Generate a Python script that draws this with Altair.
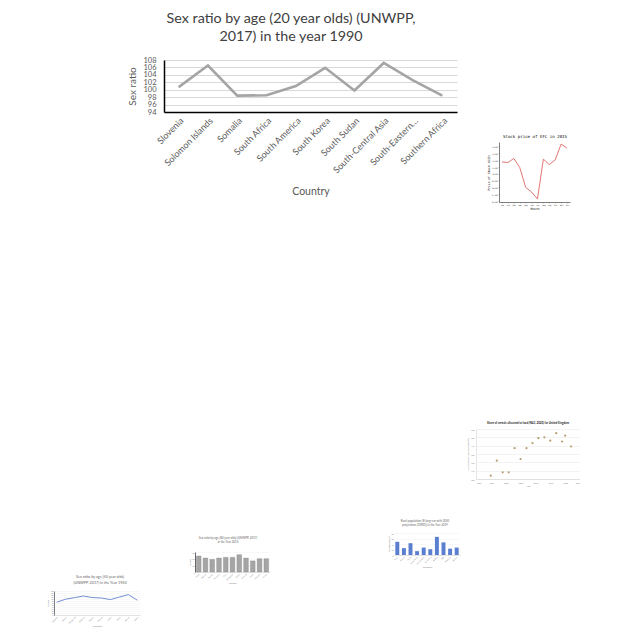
import altair as alt
import pandas as pd

FONT = "Lato"
MONO = "DejaVu Sans Mono"
GREY_TXT = "#595959"
THUMB_TXT = "#808080"

# ---------------- main chart data ----------------
main_countries = ["Slovenia", "Solomon Islands", "Somalia", "South Africa", "South America",
                  "South Korea", "South Sudan", "South-Central Asia", "South-Eastern…", "Southern Africa"]
main_values = [100.7, 106.5, 98.4, 98.5, 101.0, 105.9, 99.8, 107.2, 102.5, 98.4]
main_ticks = [94, 96, 98, 100, 102, 104, 106, 108]

# ---------------- thumbnail data ----------------
stock_months = ["Jan", "Feb", "Mar", "Apr", "May", "Jun", "Jul", "Aug", "Sep", "Oct", "Nov", "Dec"]
stock_values = [71.7, 71.6, 72.2, 70.9, 68.0, 67.3, 66.3, 72.1, 71.3, 72.0, 74.3, 73.7]
stock_ticks = [66, 67, 68, 69, 70, 71, 72, 73, 74]

cereal_years = [1995, 1997, 1999, 2001, 2003, 2005, 2007, 2009, 2011, 2013, 2015, 2017, 2019, 2020, 2022]
cereal_values = [40.4, 42.2, 40.8, 40.8, 43.7, 42.4, 43.7, 44.3, 44.9, 45.0, 44.6, 45.5, 44.5, 45.2, 43.9]
cereal_xticks = [1990, 1995, 2000, 2005, 2010, 2015, 2020, 2025]
cereal_yticks = [40, 41, 42, 43, 44, 45, 46]

rural_countries = ["Niger", "Nigeria", "Nepal", "Netherlands", "New Zealand", "Nicaragua",
                   "Malawi", "Mali", "Malaysia", "Mexico"]
rural_values = [48, 25, 43, 14, 27, 21, 66, 46, 23, 27]

sr80_countries = ["Oman", "Pakistan", "Panama", "Paraguay", "Peru", "Philippines",
                  "Poland", "Portugal", "Qatar", "Romania", "Russia"]
sr80_values = [72, 63, 57, 63, 66, 66, 78, 63, 50, 60, 60]

sr50_countries = ["Bahamas", "Bahrain", "Bangladesh", "Barbados", "Belarus", "Belgium",
                  "Belize", "Benin", "Bhutan", "Bolivia"]
sr50_values = [64, 79, 87, 95, 87, 85, 77, 90, 102, 74]


def spacer(h):
    return alt.Chart(pd.DataFrame({"a": [0]})).mark_point(opacity=0, size=1).encode(
        x=alt.value(5), y=alt.value(5)
    ).properties(width=1, height=h)


def thumb_axis(title, **kw):
    base = dict(title=title, labelFont=FONT, titleFont=FONT, labelColor=THUMB_TXT,
                titleColor=THUMB_TXT, titleFontWeight="normal", ticks=False,
                labelPadding=1, titlePadding=1.5)
    base.update(kw)
    return alt.Axis(**base)


# ---------------- main chart (plot 164..457 x 60..112) ----------------
main_df = pd.DataFrame({"Country": main_countries, "Sex ratio": main_values})
main = alt.Chart(
    main_df,
    title=alt.Title(["Sex ratio by age (20 year olds) (UNWPP,", "2017) in the year 1990"],
                    fontSize=14.3, font=FONT, fontWeight="normal", color="#404040",
                    anchor="middle", lineHeight=17.5, offset=12, dx=62.5),
).mark_line(color="#a5a5a5", strokeWidth=2.6).encode(
    x=alt.X("Country:N", sort=main_countries,
            scale=alt.Scale(type="point", padding=0.5, range=[164, 457]),
            axis=alt.Axis(title="Country", labelAngle=-45, labelFont=FONT, labelFontSize=9,
                          labelColor=GREY_TXT, titleFont=FONT, titleFontSize=10.5,
                          titleFontWeight="normal", titleColor=GREY_TXT, ticks=False,
                          domainColor="#000000", domainWidth=1.5, labelPadding=4,
                          titlePadding=12, grid=False)),
    y=alt.Y("Sex ratio:Q", scale=alt.Scale(domain=[94, 108], nice=False, zero=False),
            axis=alt.Axis(title="Sex ratio", values=main_ticks, labelOverlap=False,
                          labelFont=FONT, labelFontSize=7.5, labelColor=GREY_TXT,
                          titleFont=FONT, titleFontSize=10, titleFontWeight="normal",
                          titleColor=GREY_TXT, ticks=False, domainColor="#000000",
                          domainWidth=1.5, labelPadding=8, titlePadding=5,
                          gridColor="#d9d9d9", gridWidth=1, offset=-164)),
).properties(width=457, height=52)

# ---------------- stock thumbnail (plot 499..570 x 142..202) ----------------
stock_df = pd.DataFrame({"Month": stock_months, "Price": stock_values})
stock = alt.Chart(
    stock_df,
    title=alt.Title("Stock price of EFC in 2015", fontSize=4.1, font=MONO,
                    fontWeight="normal", color="#000000", offset=3, dx=250),
).mark_line(color="#d9534f", strokeWidth=0.8).encode(
    x=alt.X("Month:N", sort=stock_months,
            scale=alt.Scale(type="point", padding=0.5, range=[499, 570]),
            axis=alt.Axis(title="Month", labelAngle=0, labelFontSize=1.8, labelFont=MONO,
                          titleFontSize=3, titleFont=MONO, titleFontWeight="normal",
                          titlePadding=1, labelPadding=1, tickSize=1, tickWidth=0.4,
                          domainColor="#000000", domainWidth=0.5, labelColor="#000",
                          titleColor="#000", grid=False)),
    y=alt.Y("Price:Q", scale=alt.Scale(domain=[65.85, 74.6], nice=False, zero=False),
            axis=alt.Axis(title="Price of Stock (USD)", values=stock_ticks, format=".2f",
                          labelFontSize=1.8, labelFont=MONO, titleFontSize=3, titleFont=MONO,
                          titleFontWeight="normal", titlePadding=1, labelPadding=1,
                          tickSize=1, tickWidth=0.4, domainColor="#000000", domainWidth=0.5,
                          grid=False, labelColor="#000", titleColor="#000", offset=-499)),
).properties(width=570, height=60)

# ---------------- cereal scatter thumbnail (plot 476..580 x 429..479) ----------------
cereal_df = pd.DataFrame({"Year": cereal_years, "Share": cereal_values})
cereal = alt.Chart(
    cereal_df,
    title=alt.Title("Share of cereals allocated to food (FAO, 2020) for United Kingdom",
                    fontSize=2.8, font=FONT, fontWeight="bold", color="#222222",
                    offset=3, dx=238),
).mark_point(filled=True, color="#b89f72", size=5, opacity=1).encode(
    x=alt.X("Year:Q", scale=alt.Scale(domain=[1990, 2025], nice=False, range=[476, 580]),
            axis=thumb_axis("Year", values=cereal_xticks, format="d", labelFontSize=2,
                            titleFontSize=2.2, grid=False, domainColor="#cccccc",
                            domainWidth=0.5, labelPadding=2)),
    y=alt.Y("Share:Q", scale=alt.Scale(domain=[40, 46], nice=False, zero=False),
            axis=thumb_axis("Share of cereals allocated to food (%)", values=cereal_yticks,
                            format=".1f", labelFontSize=2, titleFontSize=2, gridColor="#e6e6e6",
                            gridWidth=0.5, domainColor="#cccccc", domainWidth=0.5,
                            labelPadding=2, offset=-476)),
).properties(width=580, height=50)

# ---------------- rural bar thumbnail (plot 394..460 x 533..555) ----------------
rural_df = pd.DataFrame({"Country": rural_countries, "Rural": rural_values})
rural = alt.Chart(
    rural_df,
    title=alt.Title(["Rural population (% long-run with 2050", "projections (OWID)) in the Year 2019"],
                    fontSize=2.8, font=FONT, fontWeight="normal", color="#666666",
                    lineHeight=4, offset=6, dx=195),
).mark_bar(color="#5b7fd0").encode(
    x=alt.X("Country:N", sort=rural_countries,
            scale=alt.Scale(paddingInner=0.4, paddingOuter=0.2, range=[394, 460]),
            axis=thumb_axis("Countries", labelAngle=-45, labelFontSize=1.8, titleFontSize=2.2,
                            domainColor="#cccccc", domainWidth=0.5)),
    y=alt.Y("Rural:Q", scale=alt.Scale(domain=[0, 80], nice=False),
            axis=thumb_axis("Rural population (%)", values=[0, 20, 40, 60, 80],
                            labelFontSize=1.8, titleFontSize=1.8, gridColor="#eeeeee",
                            gridWidth=0.4, domain=False, offset=-394)),
).properties(width=460, height=22)

# ---------------- 80 year olds bar thumbnail (plot 195..270 x 552..572) ----------------
sr80_df = pd.DataFrame({"Country": sr80_countries, "Ratio": sr80_values})
sr80 = alt.Chart(
    sr80_df,
    title=alt.Title(["Sex ratio by age (80 year olds) (UNWPP, 2017)", "in the Year 2015"],
                    fontSize=2.9, font=FONT, fontWeight="normal", color="#666666",
                    lineHeight=4, offset=8, dx=93),
).mark_bar(color="#a5a5a5", stroke="#7a7a7a", strokeWidth=0.3).encode(
    x=alt.X("Country:N", sort=sr80_countries,
            scale=alt.Scale(paddingInner=0.3, paddingOuter=0.2, range=[195, 270]),
            axis=thumb_axis("Country", labelAngle=-45, labelFontSize=1.8, titleFontSize=2.2,
                            domainColor="#cccccc", domainWidth=0.5)),
    y=alt.Y("Ratio:Q", scale=alt.Scale(domain=[0, 90], nice=False, range=[17, -3]),
            axis=thumb_axis("Sex ratio", values=[0, 30, 60, 90], labelFontSize=1.8,
                            titleFontSize=1.8, gridColor="#eeeeee", gridWidth=0.4,
                            domainColor="#000000", domainWidth=0.6, offset=-195)),
).properties(width=270, height=17)

# ---------------- 50 year olds line thumbnail (plot 54..140 x 591..615) ----------------
sr50_df = pd.DataFrame({"Country": sr50_countries, "Ratio": sr50_values})
sr50 = alt.Chart(
    sr50_df,
    title=alt.Title(["Sex ratio by age (50 year olds)", "(UNWPP, 2017) in the Year 1950"],
                    fontSize=3.7, font=FONT, fontWeight="normal", color="#666666",
                    lineHeight=6.5, offset=5, dx=30),
).mark_line(color="#4f74c8", strokeWidth=0.8).encode(
    x=alt.X("Country:N", sort=sr50_countries,
            scale=alt.Scale(type="point", padding=0.3, range=[54, 140]),
            axis=thumb_axis("Countries", labelAngle=-45, labelFontSize=1.8, titleFontSize=2.2,
                            domainColor="#cccccc", domainWidth=0.5)),
    y=alt.Y("Ratio:Q", scale=alt.Scale(domain=[0, 120], nice=False),
            axis=thumb_axis("Sex ratio", values=list(range(0, 121, 10)), labelFontSize=1.6,
                            titleFontSize=1.8, gridColor="#eeeeee", gridWidth=0.4,
                            domainColor="#000000", domainWidth=0.5, labelOverlap=False,
                            offset=-54)),
).properties(width=140, height=24)

# ---------------- vertical stack: plot areas placed by flush bounds ----------------
cells = [
    spacer(60), main,        # main plot 60..112
    spacer(30), stock,       # stock plot 142..202
    spacer(227), cereal,     # scatter plot 429..479
    spacer(54), rural,       # rural bars 533..555
    sr80,                    # grey bars 555..572 (range reaches up to 552)
    spacer(19), sr50,        # line 591..615
]

chart = alt.concat(*cells, columns=1, spacing=0, bounds="flush", align="none").properties(
    padding=0, background="#ffffff"
).configure_view(stroke=None)

chart.save("out.html", embed_options={"renderer": "svg", "actions": False})
